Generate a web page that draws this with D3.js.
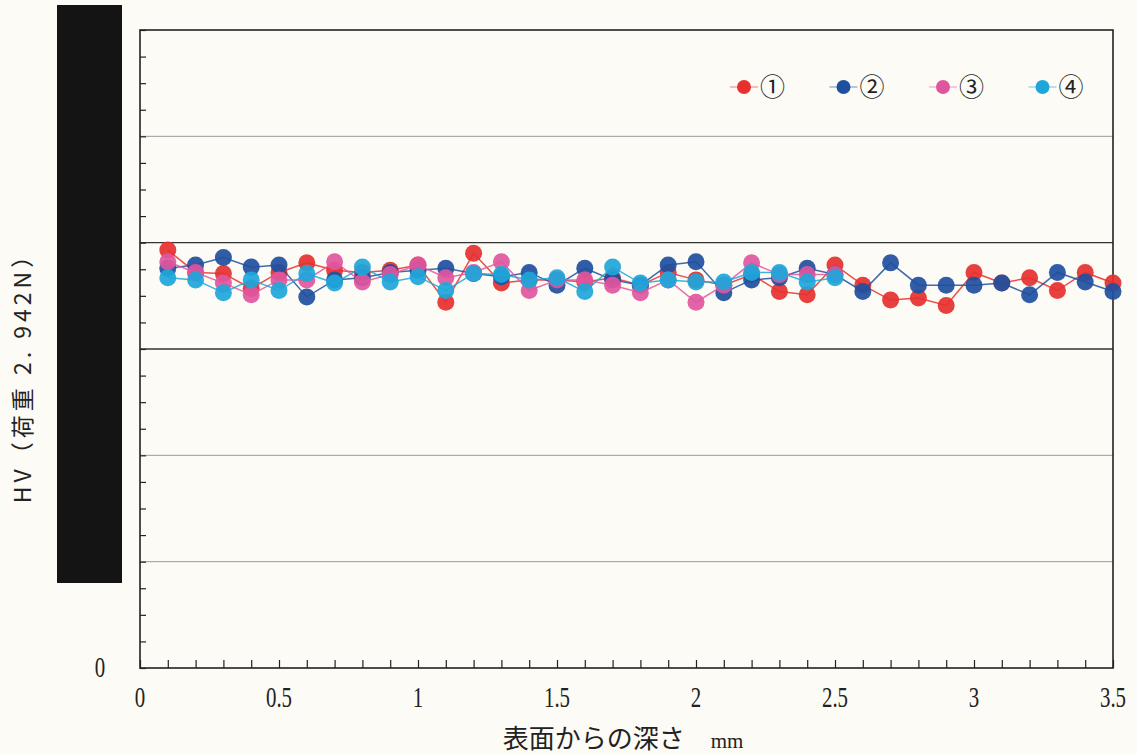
<!DOCTYPE html>
<html><head><meta charset="utf-8">
<script src="https://cdn.jsdelivr.net/npm/d3@7"></script>
<style>body{margin:0;background:#fcfbf5;} svg{display:block;}</style>
</head><body><svg id="c" width="1137" height="755"></svg>
<script>
const depths = d3.range(1, 36).map(i => +(i * 0.1).toFixed(1));
const seriesNames = ["①", "②", "③", "④"];
const seriesColors = ["#e5302e", "#1f4f9f", "#e0569e", "#1ea6da"];
const s1 = [393,372,371,357,372,381,374,372,374,379,344,390,362,365,365,363,367,360,372,365,360,370,354,351,379,360,346,348,341,372,362,367,355,372,362];
const s2 = [376,379,386,377,379,349,365,367,372,374,376,371,368,372,360,376,365,360,379,382,353,365,367,376,370,354,381,360,360,360,362,351,372,363,354];
const s3 = [382,372,362,351,365,365,382,363,370,379,367,372,382,355,365,365,360,353,365,344,360,381,370,370,370];
const s4 = [367,365,353,365,355,371,362,377,363,368,355,371,370,365,367,354,377,362,365,363,363,372,372,363,367];
const xTickLabels = ["0","0.5","1","1.5","2","2.5","3","3.5"];
const xTickValues = [0,0.5,1,1.5,2,2.5,3,3.5];
const yGridValues = [100,200,300,400,500,600];
const xTitle = "表面からの深さ　";
const xUnit = "mm";
const yTitle = "HV（荷重 2. 942N）";

const series = [s1, s2, s3, s4].map((vals, i) => ({
  name: seriesNames[i], color: seriesColors[i],
  pts: vals.map((v, j) => ({x: depths[j], y: v}))
}));

const svg = d3.select("#c");
const L = 140, R = 1113, T = 30, B = 668;
const x = d3.scaleLinear().domain([0, 3.5]).range([L, R]);
const y = d3.scaleLinear().domain([0, 600]).range([B, T]);

// gridlines
svg.append("g").selectAll("line").data(yGridValues.slice(0, 5)).join("line")
  .attr("x1", L).attr("x2", R).attr("y1", d => y(d)).attr("y2", d => y(d))
  .attr("stroke", d => (d === 300 || d === 400) ? "#333" : "#9a9a9a")
  .attr("stroke-width", d => (d === 300 || d === 400) ? 1.3 : 1);

// y minor ticks (inside)
const yAxis = d3.axisRight(y).tickValues(d3.range(0, 601, 25)).tickSize(6).tickFormat("");
svg.append("g").attr("transform", `translate(${L},0)`).call(yAxis)
  .call(g => g.select(".domain").remove())
  .selectAll("line").attr("stroke", "#222").attr("stroke-width", 1.2);

// x ticks (inside)
const xAxis = d3.axisTop(x).tickValues(d3.range(0, 36).map(i => i / 10)).tickSize(8).tickFormat("");
svg.append("g").attr("transform", `translate(0,${B})`).call(xAxis)
  .call(g => g.select(".domain").remove())
  .selectAll("line").attr("stroke", "#222").attr("stroke-width", 1.2);

// frame
svg.append("rect").attr("x", L).attr("y", T).attr("width", R - L).attr("height", B - T)
  .attr("fill", "none").attr("stroke", "#222").attr("stroke-width", 1.6);

// x tick labels (condensed serif)
svg.append("g").selectAll("text").data(xTickValues).join("text")
  .attr("transform", d => `translate(${x(d)},707) scale(0.72,1)`).attr("text-anchor", "middle")
  .attr("font-family", "Liberation Serif").attr("font-size", 29).attr("fill", "#222")
  .text((d, i) => xTickLabels[i]);

// y "0" label
svg.append("text").attr("transform", `translate(100,${y(0) + 9}) scale(0.72,1)`).attr("text-anchor", "middle")
  .attr("font-family", "Liberation Serif").attr("font-size", 29).attr("fill", "#222").text("0");

// lines and points
const line = d3.line().x(d => x(d.x)).y(d => y(d.y));
const sg = svg.append("g").selectAll("g").data(series).join("g");
sg.append("path").attr("d", d => line(d.pts)).attr("fill", "none")
  .attr("stroke", d => d.color).attr("stroke-width", 1.5).attr("opacity", 0.85);
sg.selectAll("circle").data(d => d.pts.map(p => ({...p, c: d.color}))).join("circle")
  .attr("cx", d => x(d.x)).attr("cy", d => y(d.y)).attr("r", 8.5)
  .attr("fill", d => d.c).attr("opacity", 0.92);

// legend
const lg = svg.append("g").selectAll("g").data(series).join("g")
  .attr("transform", (d, i) => `translate(${744 + i * 99.5},87)`);
lg.append("line").attr("x1", -14).attr("x2", 14).attr("stroke", d => d.color).attr("stroke-width", 1.2).attr("opacity", 0.5);
lg.append("circle").attr("r", 7).attr("fill", d => d.color);
lg.append("text").attr("x", 16).attr("y", 9).attr("font-family", "Noto Sans CJK JP")
  .attr("font-size", 25).attr("fill", "#222").text(d => d.name);

// axis titles
const xt = svg.append("text").attr("x", 623).attr("y", 748).attr("text-anchor", "middle")
  .attr("font-family", "Noto Sans CJK JP").attr("font-size", 26).attr("fill", "#222");
xt.append("tspan").text(xTitle);
xt.append("tspan").attr("font-family", "Liberation Serif").attr("font-size", 21).text(xUnit);
svg.append("text").attr("transform", "translate(31,372) rotate(-90)").attr("text-anchor", "middle")
  .attr("font-family", "Noto Sans CJK JP").attr("font-size", 23).attr("letter-spacing", 4).attr("fill", "#222").text(yTitle);

// redaction block over y tick labels
svg.append("rect").attr("x", 57).attr("y", 5).attr("width", 65).attr("height", 578).attr("fill", "#141414");
</script></body></html>
